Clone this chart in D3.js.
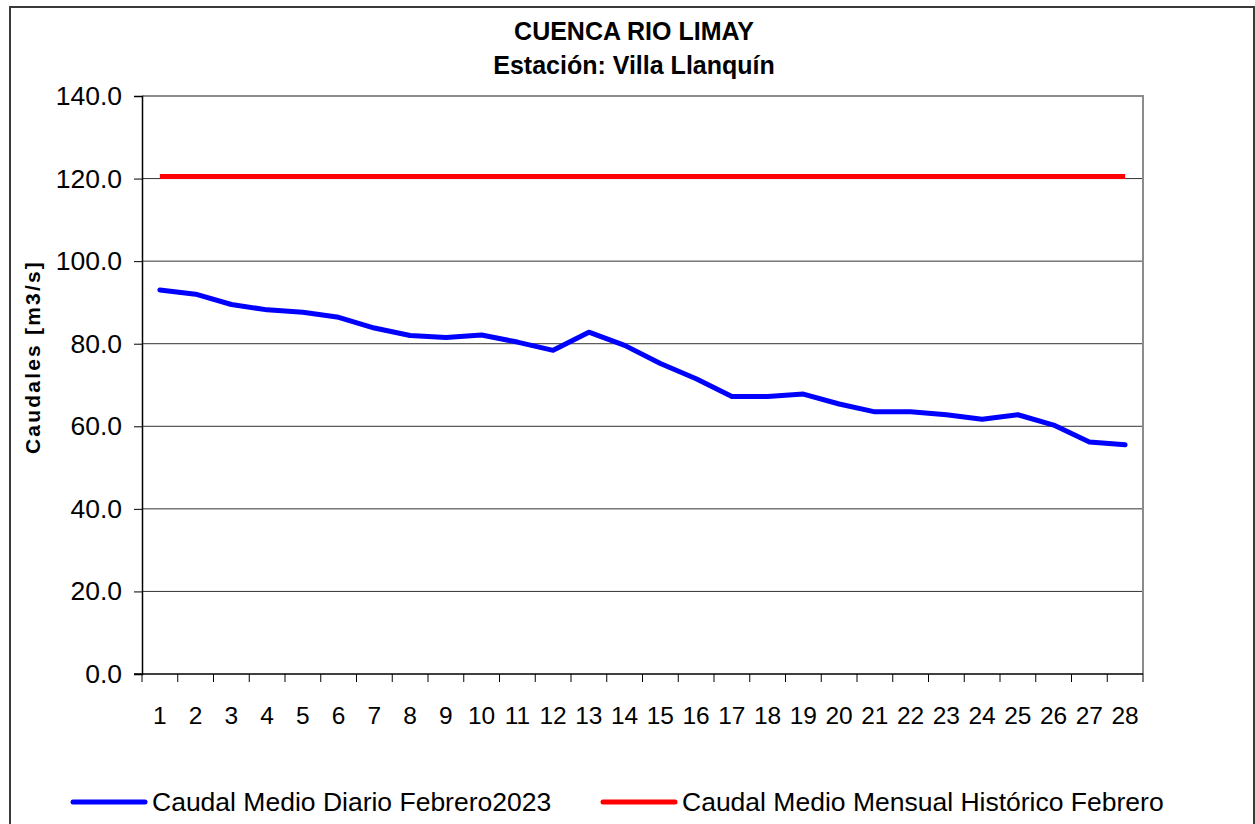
<!DOCTYPE html>
<html>
<head>
<meta charset="utf-8">
<script src="https://cdn.jsdelivr.net/npm/d3@7.9.0/dist/d3.min.js"></script>
<style>
  body { margin: 0; background: #fff; }
  svg { display: block; font-family: "Liberation Sans", Arial, sans-serif; }
</style>
</head>
<body>
<svg id="chart" width="1255" height="824"></svg>
<script>
// daily flow, February 2023 (m3/s)
const days = d3.range(1, 29);
const dailyFlow = [93.0, 92.0, 89.5, 88.2, 87.6, 86.4, 83.8, 82.0, 81.5, 82.1,
  80.4, 78.4, 82.8, 79.6, 75.2, 71.5, 67.2, 67.2, 67.8, 65.4,
  63.5, 63.5, 62.8, 61.7, 62.8, 60.3, 56.2, 55.5];
// historical monthly mean, same for every day
const historicalMean = days.map(() => 120.5);
const yTicks = [0, 20, 40, 60, 80, 100, 120, 140];
const titleLines = ['CUENCA RIO LIMAY', 'Estación: Villa Llanquín'];
const seriesNames = ['Caudal Medio Diario Febrero2023', 'Caudal Medio Mensual Histórico Febrero'];

const svg = d3.select('#chart');
const plotL = 142, plotR = 1143, plotT = 96, plotB = 674;

const x = d3.scaleBand().domain(days).range([plotL, plotR]);
const y = d3.scaleLinear().domain([0, 140]).range([plotB, plotT]);

// outer frame
svg.append('rect')
  .attr('x', 10).attr('y', 7).attr('width', 1244).attr('height', 840)
  .attr('fill', 'none').attr('stroke', '#3a3a3a').attr('stroke-width', 2);

// titles
svg.selectAll('text.title')
  .data(titleLines)
  .join('text')
  .attr('class', 'title')
  .attr('x', 634)
  .attr('y', (d, i) => 40 + i * 34)
  .attr('text-anchor', 'middle')
  .attr('font-size', 25)
  .attr('font-weight', 'bold')
  .text(d => d);

// gridlines
svg.append('g')
  .selectAll('line')
  .data(yTicks.filter(t => t > 0 && t < 140))
  .join('line')
  .attr('x1', plotL).attr('x2', plotR)
  .attr('y1', d => y(d)).attr('y2', d => y(d))
  .attr('stroke', '#333').attr('stroke-width', 1);

// plot frame top/right (gray)
svg.append('path')
  .attr('d', `M${plotL},${plotT}H${plotR}V${plotB}`)
  .attr('fill', 'none').attr('stroke', '#8c8c8c').attr('stroke-width', 2);

// y axis
const yAxis = svg.append('g')
  .attr('transform', `translate(${plotL},0)`)
  .call(d3.axisLeft(y).tickValues(yTicks).tickFormat(d3.format('.1f')).tickSize(8).tickPadding(12));
yAxis.select('.domain').attr('stroke', '#000').attr('stroke-width', 1.5);
yAxis.selectAll('.tick line').attr('stroke', '#000');
yAxis.selectAll('.tick text')
  .attr('font-size', 26.5).attr('fill', '#000')
  .attr('font-family', '"Liberation Sans", Arial, sans-serif');

// x axis: ticks between categories, labels centered
const xAxis = svg.append('g');
xAxis.append('line')
  .attr('x1', plotL - 8).attr('x2', plotR)
  .attr('y1', plotB).attr('y2', plotB)
  .attr('stroke', '#000').attr('stroke-width', 1.5);
xAxis.selectAll('line.tk')
  .data(days.map(d => x(d)).concat([plotR]))
  .join('line')
  .attr('class', 'tk')
  .attr('x1', d => d).attr('x2', d => d)
  .attr('y1', plotB).attr('y2', plotB + 8)
  .attr('stroke', '#000');
xAxis.selectAll('text')
  .data(days)
  .join('text')
  .attr('x', d => x(d) + x.bandwidth() / 2)
  .attr('y', 724)
  .attr('text-anchor', 'middle')
  .attr('font-size', 24.5)
  .text(d => d);

// y axis title
svg.append('text')
  .attr('transform', 'translate(40,357) rotate(-90)')
  .attr('text-anchor', 'middle')
  .attr('font-size', 21)
  .attr('font-weight', 'bold')
  .attr('letter-spacing', 2.2)
  .text('Caudales [m3/s]');

// lines
const line = d3.line()
  .x((d, i) => x(days[i]) + x.bandwidth() / 2)
  .y(d => y(d));

svg.append('path')
  .datum(historicalMean)
  .attr('d', line)
  .attr('fill', 'none').attr('stroke', '#ff0000').attr('stroke-width', 5);

svg.append('path')
  .datum(dailyFlow)
  .attr('d', line)
  .attr('fill', 'none').attr('stroke', '#0000ff').attr('stroke-width', 5)
  .attr('stroke-linejoin', 'round').attr('stroke-linecap', 'round');

// legend
const legendItems = [
  { name: seriesNames[0], color: '#0000ff', x: 73 },
  { name: seriesNames[1], color: '#ff0000', x: 603 }
];
const lg = svg.append('g').selectAll('g')
  .data(legendItems)
  .join('g')
  .attr('transform', d => `translate(${d.x},0)`);
lg.append('line')
  .attr('x1', 0).attr('x2', 72)
  .attr('y1', 802).attr('y2', 802)
  .attr('stroke', d => d.color).attr('stroke-width', 5)
  .attr('stroke-linecap', 'round');
lg.append('text')
  .attr('x', 79).attr('y', 811)
  .attr('font-size', 26.5)
  .text(d => d.name);
</script>
</body>
</html>
